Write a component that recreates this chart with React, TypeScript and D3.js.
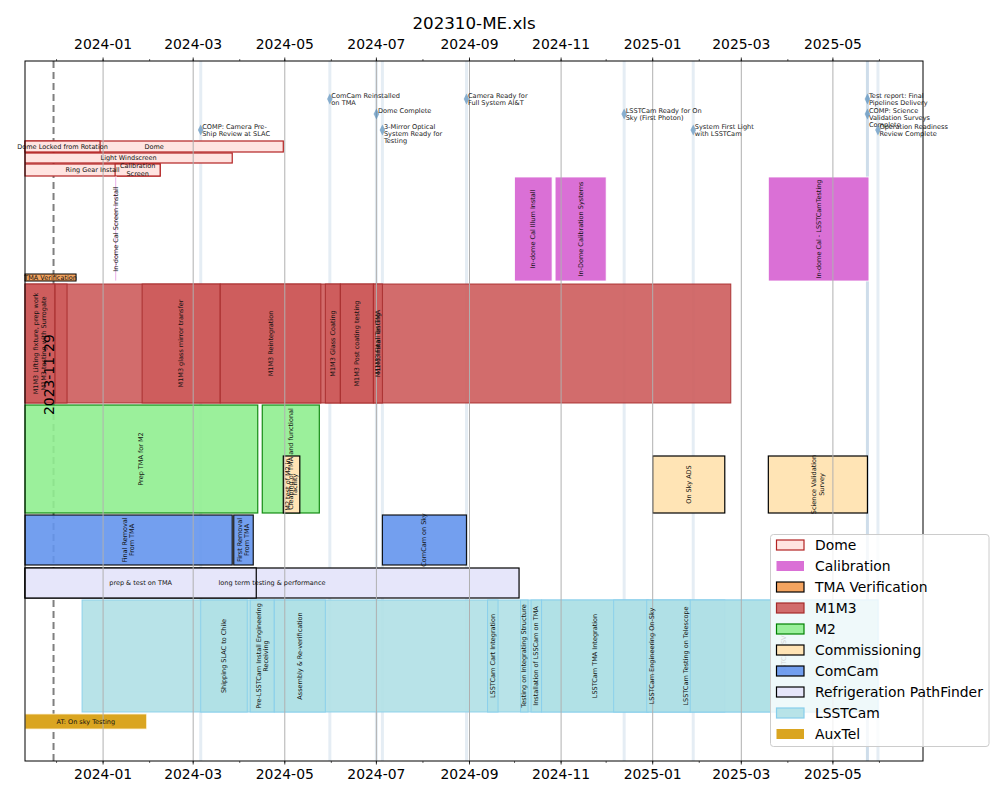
import React from "react";
import * as d3 from "d3";

// ---------------- DATA ----------------
const categories = [
  "Dome",
  "Calibration",
  "TMA Verification",
  "M1M3",
  "M2",
  "Commissioning",
  "ComCam",
  "Refrigeration PathFinder",
  "LSSTCam",
  "AuxTel",
];

// [label, start, end, subRow]
const domeTasks: [string, string, string, number][] = [
  ["Dome", "2023-11-10", "2024-04-30", 0],
  ["Dome Locked from Rotation", "2023-11-10", "2023-12-30", 0],
  ["Light Windscreen", "2023-11-10", "2024-03-27", 1],
  ["Ring Gear Install", "2023-11-10", "2024-02-08", 2],
  ["Calibration\nScreen", "2024-01-09", "2024-02-08", 2],
];
const calibrationTasks: [string, string, string][] = [
  ["In-dome Cal Screen Install", "2024-01-09", "2024-01-10"],
  ["In-dome Cal Illum Install", "2024-10-01", "2024-10-26"],
  ["In-Dome Calibration Systems", "2024-10-28", "2024-12-01"],
  ["In-dome Cal - LSSTCamTesting", "2025-03-19", "2025-05-25"],
];
const tmaTasks: [string, string, string][] = [
  ["TMA Verification", "2023-11-10", "2023-12-14"],
];
const m1m3Tasks: [string, string, string][] = [
  ["M1M3 Install on TMA", "2023-11-10", "2025-02-22"],
  ["M1M3 Lifting fixture, prep work\nM1M3 testing with Surrogate", "2023-11-10", "2023-11-30"],
  ["", "2023-11-30", "2023-12-08"],
  ["M1M3 glass mirror transfer", "2024-01-27", "2024-03-19"],
  ["M1M3 Reintegration", "2024-03-19", "2024-05-25"],
  ["M1M3 Glass Coating", "2024-05-28", "2024-06-07"],
  ["M1M3 Post coating testing", "2024-06-07", "2024-06-29"],
  ["M1M3 Final Testing", "2024-06-29", "2024-07-05"],
];
const m2Tasks: [string, string, string][] = [
  ["Prep TMA for M2", "2023-11-10", "2024-04-13"],
  ["Cleaning of TMA and functional", "2024-04-16", "2024-05-24"],
];
const commissioningTasks: [string, string, string][] = [
  ["M2 test of M2 in\nfacility", "2024-04-30", "2024-05-11"],
  ["On Sky ADS", "2025-01-01", "2025-02-18"],
  ["Science Validation\nSurvey", "2025-03-19", "2025-05-24"],
];
const comcamTasks: [string, string, string][] = [
  ["Final Removal\nFrom TMA", "2023-11-10", "2024-03-27"],
  ["First Removal\nFrom TMA", "2024-03-28", "2024-04-10"],
  ["ComCam on Sky", "2024-07-05", "2024-08-30"],
];
const refrigTasks: [string, string, string][] = [
  ["long term testing & performance", "2023-11-10", "2024-10-04"],
  ["prep & test  on TMA", "2023-11-10", "2024-04-12"],
];
const lsstcamTasks: [string, string, string][] = [
  ["", "2023-12-18", "2025-05-31"],
  ["Shipping SLAC to Chile", "2024-03-06", "2024-04-06"],
  ["Pre-LSSTCam Install Engineering\nReceiving", "2024-04-08", "2024-04-24"],
  ["Assembly & Re-verification", "2024-04-24", "2024-05-28"],
  ["LSSTCam Cart Integration", "2024-09-13", "2024-09-20"],
  ["Testing on Integrating Structure", "2024-10-05", "2024-10-10"],
  ["Installation of LSSCam on TMA", "2024-10-12", "2024-10-19"],
  ["LSSTCam TMA Integration", "2024-10-19", "2024-12-29"],
  ["LSSTCam Engineering On-Sky", "2024-12-06", "2025-01-26"],
  ["LSSTCam Testing on Telescope", "2024-12-28", "2025-02-18"],
  ["LSSTCam SV", "2025-01-26", "2025-05-31"],
];
const auxtelTasks: [string, string, string][] = [
  ["AT: On sky Testing", "2023-11-10", "2024-01-30"],
];

// [label, date, row]
const milestones: [string, string, number][] = [
  ["COMP: Camera Pre-\nShip Review at SLAC", "2024-03-06", 2],
  ["ComCam Reinstalled\non TMA", "2024-05-31", 0],
  ["Dome Complete", "2024-07-01", 1],
  ["3-Mirror Optical\nSystem Ready for\nTesting", "2024-07-05", 2],
  ["Camera Ready for\nFull System AI&T", "2024-08-30", 0],
  ["LSSTCam Ready for On\nSky (First Photon)", "2024-12-13", 1],
  ["System First Light\nwith LSSTCam", "2025-01-28", 2],
  ["Test report: Final\nPipelines Delivery", "2025-05-24", 0],
  ["COMP: Science\nValidation Surveys\nComplete", "2025-05-24", 1],
  ["Operation Readiness\nReview Complete", "2025-05-31", 2],
];

const todayDate = "2023-11-29";
const domainStart = "2023-11-10";
const domainEnd = "2025-06-30";
const chartTitle = "202310-ME.xls";

// ---------------- STYLE / LAYOUT ----------------
const FONT = "DejaVu Sans, Verdana, sans-serif";
const styles: Record<string, { fill: string; stroke: string; opacity: number; sw: number }> = {
  Dome: { fill: "#ffe4e1", stroke: "#b22222", opacity: 1, sw: 1.2 },
  Calibration: { fill: "#da70d6", stroke: "#ffffff", opacity: 1, sw: 0.8 },
  "TMA Verification": { fill: "#f4a460", stroke: "#000000", opacity: 1, sw: 1 },
  M1M3: { fill: "#cd5c5c", stroke: "#a52a2a", opacity: 0.9, sw: 1 },
  M2: { fill: "#90ee90", stroke: "#008000", opacity: 0.9, sw: 1.2 },
  Commissioning: { fill: "#ffe4b5", stroke: "#000000", opacity: 1, sw: 1.2 },
  ComCam: { fill: "#6495ed", stroke: "#000000", opacity: 0.9, sw: 1.2 },
  "Refrigeration PathFinder": { fill: "#e6e6fa", stroke: "#000000", opacity: 1, sw: 1.2 },
  LSSTCam: { fill: "#b0e0e6", stroke: "#87ceeb", opacity: 0.9, sw: 1 },
  AuxTel: { fill: "#daa520", stroke: "#fff3d6", opacity: 1, sw: 0.8 },
};
const legendStroke: Record<string, string> = {
  Dome: "#b22222",
  Calibration: "none",
  "TMA Verification": "#000",
  M1M3: "#a52a2a",
  M2: "#008000",
  Commissioning: "#000",
  ComCam: "#000",
  "Refrigeration PathFinder": "#000",
  LSSTCam: "#87ceeb",
  AuxTel: "none",
};

const PLOT = { left: 25, right: 923, top: 61, bottom: 761 };
// vertical bands (pixel rows) for each lane
const lanes: Record<string, [number, number][]> = {
  Dome: [
    [141, 152],
    [153, 163],
    [164, 176],
  ],
  Calibration: [[177, 281]],
  "TMA Verification": [[274, 281]],
  M1M3: [[284, 403]],
  M2: [[405, 513]],
  Commissioning: [[456, 513]],
  ComCam: [[515, 565]],
  "Refrigeration PathFinder": [[568, 598]],
  LSSTCam: [[600, 712]],
  AuxTel: [[714, 729]],
};
const horizontalLabel: Record<string, boolean> = {
  Dome: true,
  "TMA Verification": true,
  "Refrigeration PathFinder": true,
  AuxTel: true,
};
const milestoneRowY = [99, 114, 130];

const parse = d3.timeParse("%Y-%m-%d");

type Task = { cat: string; label: string; start: Date; end: Date; row: number };

function buildTasks(): Task[] {
  const out: Task[] = [];
  domeTasks.forEach(([l, s, e, r]) => out.push({ cat: "Dome", label: l, start: parse(s)!, end: parse(e)!, row: r }));
  const add = (cat: string, arr: [string, string, string][]) =>
    arr.forEach(([l, s, e]) => out.push({ cat, label: l, start: parse(s)!, end: parse(e)!, row: 0 }));
  add("Calibration", calibrationTasks);
  add("TMA Verification", tmaTasks);
  add("M1M3", m1m3Tasks);
  add("M2", m2Tasks);
  add("Commissioning", commissioningTasks);
  add("ComCam", comcamTasks);
  add("Refrigeration PathFinder", refrigTasks);
  add("LSSTCam", lsstcamTasks);
  add("AuxTel", auxtelTasks);
  return out;
}

export default function App() {
  const W = 1000;
  const H = 800;
  const x = d3
    .scaleTime()
    .domain([parse(domainStart)!, parse(domainEnd)!])
    .range([PLOT.left, PLOT.right]);
  const majorTicks = d3.timeMonth.every(2)!.range(parse(domainStart)!, parse(domainEnd)!).filter((d) => d.getMonth() % 2 === 0);
  const minorTicks = d3.timeMonth.range(parse(domainStart)!, parse(domainEnd)!);
  const fmt = d3.timeFormat("%Y-%m");
  const tasks = buildTasks();
  const today = parse(todayDate)!;
  const barFS = 6.5;
  const lh = 7.5;

  const renderLabel = (t: Task, i: number) => {
    if (!t.label) return null;
    const [y0, y1] = lanes[t.cat][t.row];
    const cx = (x(t.start) + x(t.end)) / 2;
    const cy = (y0 + y1) / 2;
    const lines = t.label.split("\n");
    const n = lines.length;
    const horiz = horizontalLabel[t.cat];
    return (
      <g key={"lbl" + i} transform={`translate(${cx},${cy})${horiz ? "" : " rotate(-90)"}`}>
        {lines.map((ln, k) => (
          <text
            key={k}
            x={0}
            y={(k - (n - 1) / 2) * lh}
            textAnchor="middle"
            dominantBaseline="central"
            fontSize={barFS}
            fontFamily={FONT}
            fill="#111"
          >
            {ln}
          </text>
        ))}
      </g>
    );
  };

  return (
    <svg width={W} height={H} style={{ display: "block", position: "absolute", left: 0, top: 0 }}>
      <rect x={0} y={0} width={W} height={H} fill="#fff" />
      {/* title */}
      <text x={474} y={29} textAnchor="middle" fontSize={16.7} fontFamily={FONT} fill="#000">
        {chartTitle}
      </text>

      {/* milestone vertical lines */}
      {milestones.map(([l, d], i) => (
        <line
          key={"mv" + i}
          x1={x(parse(d)!)}
          x2={x(parse(d)!)}
          y1={PLOT.top}
          y2={PLOT.bottom}
          stroke="#4682b4"
          strokeOpacity={0.14}
          strokeWidth={3}
        />
      ))}

      {/* today dashed line */}
      <line
        x1={x(today)}
        x2={x(today)}
        y1={PLOT.top}
        y2={PLOT.bottom}
        stroke="#7f7f7f"
        strokeWidth={2}
        strokeDasharray="7,4"
      />

      {/* bars */}
      {tasks.map((t, i) => {
        const st = styles[t.cat];
        const [y0, y1] = lanes[t.cat][t.row];
        const x0 = x(t.start);
        const w = Math.max(1, x(t.end) - x0);
        return (
          <rect
            key={"bar" + i}
            x={x0}
            y={y0}
            width={w}
            height={y1 - y0}
            fill={st.fill}
            fillOpacity={st.opacity}
            stroke={st.stroke}
            strokeOpacity={st.opacity}
            strokeWidth={st.sw}
          />
        );
      })}

      {/* gridlines */}
      {majorTicks.map((d, i) => (
        <line key={"g" + i} x1={x(d)} x2={x(d)} y1={PLOT.top} y2={PLOT.bottom} stroke="#b0b0b0" strokeWidth={1} />
      ))}

      {/* milestone diamonds & labels */}
      {milestones.map(([l, d, r], i) => {
        const mx = x(parse(d)!);
        const my = milestoneRowY[r];
        const lines = l.split("\n");
        return (
          <g key={"ms" + i}>
            <path
              d={`M${mx},${my - 5.5} L${mx + 2.8},${my} L${mx},${my + 5.5} L${mx - 2.8},${my} Z`}
              fill="#4682b4"
              fillOpacity={0.6}
            />
            {lines.map((ln, k) => (
              <text
                key={k}
                x={mx + 1.5}
                y={my - 3.5 + k * 7.2}
                dominantBaseline="central"
                fontSize={6.6}
                fontFamily={FONT}
                fill="#222"
              >
                {ln}
              </text>
            ))}
          </g>
        );
      })}

      {/* bar labels */}
      {tasks.map((t, i) => renderLabel(t, i))}

      {/* today label */}
      <text
        transform={`translate(${x(today) + 0.5},415) rotate(-90)`}
        fontSize={13.9}
        fontFamily={FONT}
        fill="#000"
      >
        {todayDate}
      </text>

      {/* spines */}
      <rect
        x={PLOT.left}
        y={PLOT.top}
        width={PLOT.right - PLOT.left}
        height={PLOT.bottom - PLOT.top}
        fill="none"
        stroke="#000"
        strokeWidth={1}
      />

      {/* ticks bottom and top */}
      {minorTicks.map((d, i) => (
        <g key={"mt" + i}>
          <line x1={x(d)} x2={x(d)} y1={PLOT.bottom} y2={PLOT.bottom + 2} stroke="#000" strokeWidth={0.6} />
          <line x1={x(d)} x2={x(d)} y1={PLOT.top} y2={PLOT.top - 2} stroke="#000" strokeWidth={0.6} />
        </g>
      ))}
      {majorTicks.map((d, i) => (
        <g key={"Mt" + i}>
          <line x1={x(d)} x2={x(d)} y1={PLOT.bottom} y2={PLOT.bottom + 3.5} stroke="#000" strokeWidth={0.8} />
          <line x1={x(d)} x2={x(d)} y1={PLOT.top} y2={PLOT.top - 3.5} stroke="#000" strokeWidth={0.8} />
          <text x={x(d)} y={779} textAnchor="middle" fontSize={13.9} fontFamily={FONT} fill="#000">
            {fmt(d)}
          </text>
          <text x={x(d)} y={48.5} textAnchor="middle" fontSize={13.9} fontFamily={FONT} fill="#000">
            {fmt(d)}
          </text>
        </g>
      ))}

      {/* legend */}
      <g>
        <rect x={770.5} y={534.5} width={218.5} height={212} rx={3} fill="#fff" fillOpacity={0.8} stroke="#cccccc" strokeWidth={1} />
        {categories.map((c, i) => {
          const cy = 545 + i * 21;
          const st = styles[c];
          return (
            <g key={"lg" + i}>
              <rect
                x={776.5}
                y={cy - 5}
                width={27.5}
                height={10}
                fill={st.fill}
                fillOpacity={st.opacity}
                stroke={legendStroke[c]}
                strokeWidth={1.2}
              />
              <text x={815} y={cy + 5} fontSize={13.9} fontFamily={FONT} fill="#000">
                {c}
              </text>
            </g>
          );
        })}
      </g>
    </svg>
  );
}
